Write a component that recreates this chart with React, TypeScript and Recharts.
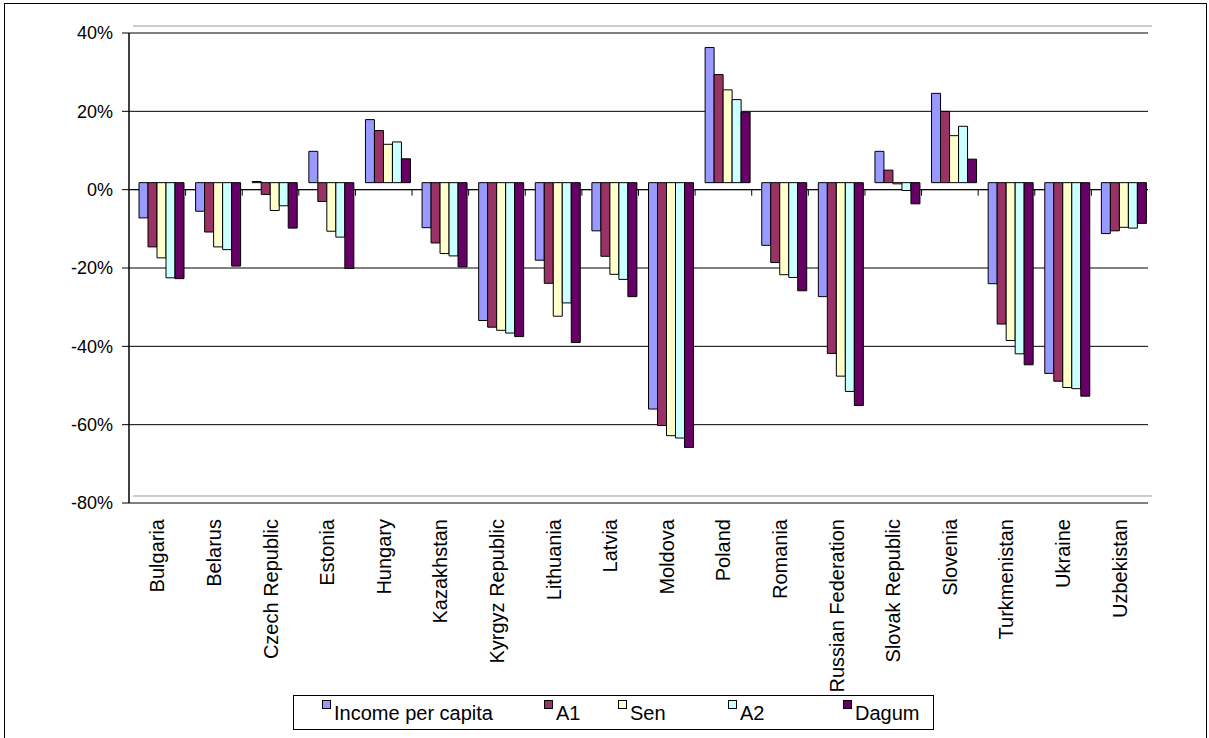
import React from "react";
import {
  Bar,
  BarChart,
  CartesianGrid,
  ComposedChart,
  ReferenceLine,
  Scatter,
  XAxis,
  YAxis,
} from "recharts";

const COUNTRIES = [
  "Bulgaria", "Belarus", "Czech Republic", "Estonia", "Hungary", "Kazakhstan",
  "Kyrgyz Republic", "Lithuania", "Latvia", "Moldova", "Poland", "Romania",
  "Russian Federation", "Slovak Republic", "Slovenia", "Turkmenistan", "Ukraine", "Uzbekistan",
];

const INCOME = [-9.0, -7.3, 0.3, 8.0, 16.1, -11.5, -35.2, -19.8, -12.3, -57.8, 34.5, -16.0, -29.1, 8.0, 22.8, -25.8, -48.7, -13.0];
const A1 = [-16.4, -12.6, -3.0, -4.8, 13.3, -15.4, -36.9, -25.7, -18.8, -62.0, 27.6, -20.4, -43.6, 3.2, 18.2, -36.1, -50.7, -12.3];
const SEN = [-19.2, -16.4, -7.1, -12.4, 9.8, -18.1, -37.7, -34.1, -23.4, -64.6, 23.7, -23.5, -49.4, -0.3, 12.0, -40.3, -52.3, -11.4];
const A2 = [-24.3, -17.1, -5.9, -13.9, 10.4, -18.7, -38.4, -30.7, -24.7, -65.2, 21.2, -24.2, -53.3, -2.0, 14.4, -43.7, -52.6, -11.6];
const DAGUM = [-24.5, -21.3, -11.6, -21.9, 6.1, -21.5, -39.3, -40.8, -29.1, -67.6, 18.0, -27.6, -56.9, -5.4, 6.0, -46.5, -54.5, -10.4];

const Y_TICKS = [40, 20, 0, -20, -40, -60, -80];

const SERIES = [
  { key: "income", name: "Income per capita", color: "#9999FF" },
  { key: "a1", name: "A1", color: "#993366" },
  { key: "sen", name: "Sen", color: "#FFFFCC" },
  { key: "a2", name: "A2", color: "#CCFFFF" },
  { key: "dagum", name: "Dagum", color: "#660066" },
];

const rows = COUNTRIES.map((country, i) => ({
  country,
  income: INCOME[i],
  a1: A1[i],
  sen: SEN[i],
  a2: A2[i],
  dagum: DAGUM[i],
}));

// category centres and the boundaries between them, on a numeric axis
const labelTicks = COUNTRIES.map((_, i) => i + 0.5);
const boundaryTicks = COUNTRIES.slice(1).map((_, i) => ({ x: i + 1, y: 0 }));

const W = 1209;
const H = 738;
const FONT = "'Liberation Sans', Arial, sans-serif";
const DEPTH = { dx: 4, dy: -7 };
// left offsets of the legend items inside the legend box
const LEGEND_X = [28, 250, 324, 434, 549];

function CountryTick(props: any) {
  const { x, y, payload } = props;
  const name = COUNTRIES[Math.floor(payload.value)];
  return (
    <text
      x={x}
      y={y}
      transform={`rotate(-90, ${x}, ${y})`}
      textAnchor="end"
      dy="0.35em"
      fontSize={20}
      fontFamily={FONT}
      fill="#000"
    >
      {name}
    </text>
  );
}

function TickMark(props: any) {
  const { cx, cy } = props;
  return <line x1={cx} y1={cy} x2={cx} y2={cy + 6} stroke="#000" strokeWidth={1} />;
}

function FrontChart() {
  return (
    <ComposedChart width={W} height={H} margin={{ top: 33, right: 61, bottom: 35, left: 69 }}>
      <CartesianGrid vertical={false} stroke="#000" />
      <XAxis
        type="number"
        dataKey="x"
        domain={[0, COUNTRIES.length]}
        ticks={labelTicks}
        interval={0}
        height={200}
        axisLine={false}
        tickLine={false}
        tickSize={6}
        tickMargin={10}
        tick={<CountryTick />}
        allowDataOverflow
      />
      <YAxis
        domain={[-80, 40]}
        ticks={Y_TICKS}
        interval={0}
        width={60}
        tickFormatter={(v: number) => `${v}%`}
        tick={{ fill: "#000", fontSize: 18, fontFamily: FONT }}
        axisLine={{ stroke: "#000", strokeWidth: 1.5 }}
        tickLine={{ stroke: "#000" }}
        tickSize={7}
        tickMargin={9}
        allowDataOverflow
      />
      <YAxis yAxisId="right" orientation="right" domain={[-80, 40]} width={0} tick={false} tickLine={false} axisLine={{ stroke: "#000" }} />
      <ReferenceLine y={0} stroke="#000" />
      <Scatter data={boundaryTicks} dataKey="y" shape={TickMark} isAnimationActive={false} />
    </ComposedChart>
  );
}

function BackChart() {
  return (
    <BarChart
      width={W}
      height={H}
      data={rows}
      margin={{ top: 33, right: 61, bottom: 235, left: 129 }}
      barCategoryGap={6}
      barGap={0}
    >
      <CartesianGrid vertical={false} stroke="#999" />
      <XAxis dataKey="country" hide />
      <YAxis domain={[-80, 40]} ticks={[-80, 40]} width={0} tick={false} tickLine={false} axisLine={{ stroke: "#999" }} />
      <YAxis yAxisId="right" orientation="right" domain={[-80, 40]} width={0} tick={false} tickLine={false} axisLine={{ stroke: "#999" }} />
      {SERIES.map((s) => (
        <Bar key={s.key} dataKey={s.key} name={s.name} fill={s.color} stroke="#000" strokeWidth={1} isAnimationActive={false} />
      ))}
    </BarChart>
  );
}

function ChartLegend() {
  return (
    <div
      style={{
        position: "absolute",
        left: 293,
        top: 695,
        width: 641,
        height: 35,
        boxSizing: "border-box",
        border: "1px solid #000",
        background: "#fff",
        fontFamily: FONT,
        fontSize: 20,
        color: "#000",
      }}
    >
      {SERIES.map((s, i) => (
        <div key={s.key} style={{ position: "absolute", left: LEGEND_X[i], top: 4 }}>
          <span
            style={{
              position: "absolute",
              left: 0,
              top: 0,
              width: 7,
              height: 7,
              background: s.color,
              border: "1px solid #000",
            }}
          />
          <span style={{ position: "absolute", left: 12, top: 3, lineHeight: "20px", whiteSpace: "nowrap" }}>{s.name}</span>
        </div>
      ))}
    </div>
  );
}

export default function App() {
  return (
    <div style={{ position: "absolute", left: 0, top: 0, width: W, height: H, background: "#fff", overflow: "hidden" }}>
      <div
        style={{
          position: "absolute",
          left: 4,
          top: 3,
          width: 1203,
          height: 800,
          boxSizing: "border-box",
          border: "1px solid #000",
        }}
      />
      <div style={{ position: "absolute", left: 0, top: 0 }}>
        <FrontChart />
      </div>
      <div style={{ position: "absolute", left: DEPTH.dx, top: DEPTH.dy }}>
        <BackChart />
      </div>
      <ChartLegend />
    </div>
  );
}
